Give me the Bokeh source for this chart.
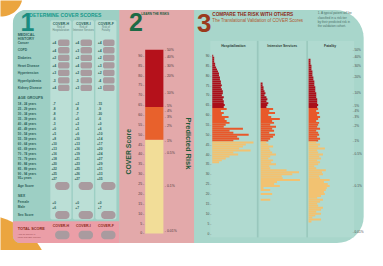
import numpy as np
from bokeh.plotting import figure
from bokeh.models import Range1d
from bokeh.core.properties import value
from bokeh.embed import file_html
from bokeh.resources import INLINE

# ---------------- data ----------------
cover_columns = ["COVER-H", "COVER-I", "COVER-F"]
cover_sub1 = ["Risk of", "Risk of", "Risk of"]
cover_sub2 = ["Hospitalization", "Intensive Services", "Fatality"]

medical_items = ["Cancer", "COPD", "Diabetes", "Heart Disease", "Hypertension",
                 "Hyperlipidemia", "Kidney Disease"]
medical_h = ["+4", "+4", "+2", "+4", "+3", "-3", "+4"]
medical_i = ["+4", "+3", "+2", "+4", "+2", "-3", "+3"]
medical_f = ["+4", "+4", "+2", "+3", "+2", "-4", "+3"]

age_groups = ["18 - 24 years", "25 - 29 years", "30 - 34 years", "35 - 39 years",
              "40 - 44 years", "45 - 49 years", "50 - 54 years", "55 - 59 years",
              "60 - 64 years", "65 - 69 years", "70 - 74 years", "75 - 79 years",
              "80 - 84 years", "85 - 89 years", "90 - 94 years", "95+ years"]
age_h = ["-7", "-8", "-8", "-6", "-3", "+0", "+5", "+8", "+10", "+13", "+16",
         "+18", "+20", "+22", "+25", "+27"]
age_i = ["+2", "-8", "-7", "+0", "+2", "+5", "+6", "+10", "+13", "+16", "+19",
         "+21", "+23", "+25", "+26", "+27"]
age_f = ["-15", "-9", "-20", "-6", "+0", "+6", "+10", "+14", "+17", "+20", "+24",
         "+27", "+29", "+31", "+33", "+35"]

sex_groups = ["Female", "Male"]
sex_h = ["+0", "+6"]
sex_i = ["+0", "+7"]
sex_f = ["+0", "+7"]
score_labels = ["Age Score", "Sex Score"]

score_ticks = list(range(0, 95, 5))
risk_labels = ["50%", "40%", "30%", "20%", "10%", "5%", "4%", "3%", "2%", "1%",
               "0.5%", "0.1%", "0.01%"]
risk_scores = [93, 89.5, 85, 79.5, 71, 64.5, 62, 59, 54.5, 47, 40.5, 24, 1]

tier_names = ["Low", "Medium", "High"]
tier_low = [0, 47.5, 64]
tier_high = [47.5, 64, 93]

hosp_scores = list(range(90, 35, -1))
hosp_counts = [1, 2, 2, 2, 3, 3, 4, 5, 6, 7, 7, 8, 8, 9, 9, 10, 9, 10, 11, 11, 10,
               12, 11, 12, 12, 13, 12,
               15, 9, 12, 10, 17, 13, 15, 18, 14, 12, 32, 18, 22, 38, 26, 28, 22,
               43, 35, 32, 28, 40, 22, 27, 18, 14, 10, 7]

icu_scores = list(range(76, 16, -1))
icu_counts = [2, 2, 3, 3, 4, 5, 4, 6, 7, 6, 8, 7, 6,
              13, 9, 15, 8, 11, 20, 12, 14, 10, 16, 12, 14, 9, 15, 13, 10, 8,
              6, 8, 13, 9, 10, 12, 16, 10, 8, 13, 11, 16, 9, 10, 27, 40, 33, 22,
              23, 41, 17, 14, 20, 3, 10, 0, 12, 0, 0, 10]

fat_scores = list(range(88, 5, -1))
fat_counts = [2, 2, 2, 3, 3, 3, 4, 4, 4, 5, 5, 6, 6, 6, 7, 7, 7, 8, 8, 8, 9, 9, 9,
              10, 9,
              10, 8, 11, 9, 12, 10, 8, 11, 10, 9, 12, 8, 10, 11, 9, 12, 10,
              8, 12, 10, 17, 9, 10, 15, 11, 13, 9, 12, 10, 6, 8, 18, 14, 15, 11,
              12, 22, 16, 20, 22, 19, 18, 16, 17, 13, 9, 15, 12, 9, 10, 15, 13,
              8, 13, 7, 4, 13, 3]

hist_titles = ["Hospitalization", "Intensive Services", "Fatality"]

# ---------------- styling ----------------
FONT = value("Liberation Sans")
TEAL_BG = "#9dcfc4"
TEAL_COL = "#bbdfd6"
PINK_BG = "#e3a9aa"
PINK_BAND = "#eb9ea7"
MINT_BG = "#a8d6cb"
MINT_COL = "#b0dad0"
ORANGE_DECO = "#eba53f"
GAUGE_COLORS = ["#f2dd98", "#e8612c", "#b5111b"]
HIST_COLORS = ["#f2c271", "#e8582a", "#aa101a"]
PILL = "#a99b9f"
DARK_TEAL = "#2c5f59"
DARK_GREEN = "#1e5a3c"
DARK_RED = "#8c2a1a"

# layout canvas: the reference's 383 x 266 picture, fitted into the 367 x 250 page
REF_W, REF_H = 383, 266
PW, PH = 367, 250
S = PW / REF_W

p = figure(width=PW, height=PH, x_range=Range1d(0, REF_W), y_range=Range1d(REF_H, 0),
           output_backend="svg", toolbar_location=None, min_border=0)
p.axis.visible = False
p.grid.visible = False
p.outline_line_color = None
p.background_fill_color = "white"
p.border_fill_color = "white"

# score scale shared by panels 2 and 3 (score 0 at y=247.8, 2.1 px per point)
Y0, K = 247.8, 2.1
p.extra_y_ranges = {"score": Range1d((Y0 - REF_H) / K, Y0 / K)}
GX0, GX1 = 151, 170
gw = GX1 - GX0
p.extra_x_ranges = {
    "gauge": Range1d(-GX0 / gw, (REF_W - GX0) / gw),
    "hosp": Range1d(-221, REF_W - 221),
    "icu": Range1d(-271.5, REF_W - 271.5),
    "fat": Range1d(-321.5, REF_W - 321.5),
}


def rrect(x0, y0, x1, y1, r):
    if not isinstance(r, (tuple, list)):
        r = (r, r, r, r)
    tl, tr, br, bl = r
    xs, ys = [], []

    def arc(cx, cy, rad, a0, a1):
        t = np.linspace(a0, a1, 10)
        xs.extend(cx + rad * np.cos(t))
        ys.extend(cy + rad * np.sin(t))

    arc(x0 + tl, y0 + tl, tl, np.pi, 1.5 * np.pi)
    arc(x1 - tr, y0 + tr, tr, 1.5 * np.pi, 2 * np.pi)
    arc(x1 - br, y1 - br, br, 0, 0.5 * np.pi)
    arc(x0 + bl, y1 - bl, bl, 0.5 * np.pi, np.pi)
    return [float(v) for v in xs], [float(v) for v in ys]


def shape(x0, y0, x1, y1, r, color, alpha=1.0):
    xs, ys = rrect(x0, y0, x1, y1, r)
    p.patch(xs, ys, fill_color=color, line_color=None, fill_alpha=alpha)


def txt(xs, ys, texts, size, color, align="left", bold=False, angle=0.0,
        baseline="middle", **kw):
    p.text(x=xs, y=ys, text=texts, text_font=FONT,
           text_font_size=f"{size * S:.2f}px",
           text_color=color, text_align=align, text_baseline=baseline,
           text_font_style="bold" if bold else "normal", angle=angle, **kw)


# ---------------- decorations / panels ----------------
circle_t = np.linspace(0, 2 * np.pi, 80)
p.patch([float(v) for v in 1 + 22 * np.cos(circle_t)],
        [float(v) for v in -5 + 22 * np.sin(circle_t)],
        fill_color=ORANGE_DECO, line_color=None)
p.patch([float(v) for v in -20 + 72 * np.cos(circle_t)],
        [float(v) for v in 300 + 72 * np.sin(circle_t)],
        fill_color=ORANGE_DECO, line_color=None)

shape(13, 10, 379, 258, (14, 30, 28, 8), MINT_BG)
shape(13, 10, 124, 258, (14, 0, 0, 8), TEAL_BG)
shape(124, 10, 202, 258, 0, PINK_BG)
shape(13, 235, 124, 258, (0, 0, 0, 8), PINK_BAND)

# ---------------- panel 1 ----------------
col_cx = [63, 86.5, 110]
val_x = [56, 80, 103.5]
for c in col_cx:
    shape(c - 11, 21, c + 11, 233, 2, TEAL_COL)

txt([21], [22.5], ["1"], 26, "#1a8c80", bold=True)
txt([30], [15], ["DETERMINE COVER SCORES"], 5.3, "#14998b", bold=True)
txt(col_cx, [25] * 3, cover_columns, 3.7, DARK_TEAL, align="center", bold=True)
txt(col_cx, [28.8] * 3, cover_sub1, 2.7, "#5f7f7a", align="center")
txt(col_cx, [31.8] * 3, cover_sub2, 2.7, "#5f7f7a", align="center")

txt([18, 18], [36.5, 40.5], ["MEDICAL", "HISTORY"], 3.9, DARK_TEAL, bold=True)
med_y = [45 + 8 * i for i in range(len(medical_items))]
txt([18] * len(med_y), med_y, medical_items, 3.4, DARK_TEAL, bold=True)
for vx, vals in zip(val_x, [medical_h, medical_i, medical_f]):
    txt([vx] * len(med_y), med_y, vals, 3.6, DARK_TEAL, align="center", bold=True)
for c in col_cx:
    for y in med_y:
        shape(c - 3, y - 3.4, c + 9, y + 3.4, 2, PILL)

txt([18], [104], ["AGE GROUPS"], 3.9, DARK_TEAL, bold=True)
age_y = [110 + 5.27 * i for i in range(len(age_groups))]
txt([18] * len(age_y), age_y, age_groups, 3.2, DARK_TEAL, bold=True)
for vx, vals in zip(val_x, [age_h, age_i, age_f]):
    txt([vx] * len(age_y), age_y, vals, 3.4, DARK_TEAL, align="center", bold=True)

sc_cx = [64.5, 89, 112.5]
txt([18], [197], [score_labels[0]], 3.4, DARK_TEAL, bold=True)
for c in sc_cx:
    shape(c - 7.5, 193, c + 7.5, 201.5, 4, PILL)

txt([18], [208], ["SEX"], 3.9, DARK_TEAL, bold=True)
sex_y = [214.5, 220]
txt([18, 18], sex_y, sex_groups, 3.4, DARK_TEAL, bold=True)
for vx, vals in zip(val_x, [sex_h, sex_i, sex_f]):
    txt([vx] * 2, sex_y, vals, 3.4, DARK_TEAL, align="center", bold=True)
txt([18], [228], [score_labels[1]], 3.4, DARK_TEAL, bold=True)
for c in sc_cx:
    shape(c - 7.5, 224, c + 7.5, 232.5, 4, PILL)

txt(col_cx, [240] * 3, cover_columns, 3.7, DARK_RED, align="center", bold=True)
txt([18], [243.5], ["TOTAL SCORE"], 4.0, DARK_RED, bold=True)
txt([18, 18], [248.5, 251.5], ["Add all scores in", "each COVER column"], 2.5, "#9a4a50")
for c in sc_cx:
    shape(c - 7.5, 245, c + 7.5, 254, 4, PILL)

# ---------------- panel 2 ----------------
txt([134], [23], ["2"], 26, "#1d6a45", bold=True)
txt([147], [13.8], ["LEARN THE RISKS"], 3.2, DARK_GREEN, bold=True)
p.quad(left=[0, 0, 0], right=[1, 1, 1], bottom=tier_low, top=tier_high,
       fill_color=GAUGE_COLORS, line_color=None,
       x_range_name="gauge", y_range_name="score")
txt([150] * len(score_ticks), score_ticks, [f"{t} -" for t in score_ticks], 3.6,
    "#4a3a3a", align="right", y_range_name="score")
txt([171.5] * len(risk_scores), risk_scores, [f"- {s}" for s in risk_labels], 3.6,
    "#4a3a3a", y_range_name="score")
txt([133.5], [161], ["COVER Score"], 7.2, DARK_GREEN, align="center", bold=True,
    angle=np.pi / 2)
txt([196.5], [152], ["Predicted Risk"], 7.8, DARK_GREEN, align="center", bold=True,
    angle=-np.pi / 2)

# ---------------- panel 3 ----------------
txt([205], [23.5], ["3"], 27, "#9b3a1c", bold=True)
txt([221], [14.5], ["COMPARE THE RISK WITH OTHERS"], 4.9, DARK_RED, bold=True)
txt([221], [21.5], ["The Translational Validation of COVER Scores"], 4.6, "#b0592f")
txt([331] * 4, [13.5, 18, 22.5, 27],
    ["1. A typical patient will be", "   classified in a risk tier",
     "   by their predicted risk in", "   the validation cohort."],
    3.2, "#4b6f68")

hist_x = [(219, 267), (270, 319), (321, 369)]
for (a, b) in hist_x:
    shape(a, 43, b, 252, 0, MINT_COL)
p.segment(x0=[268.5, 320], y0=[43, 43], x1=[268.5, 320], y1=[252, 252],
          line_color="#8fbcb1", line_width=0.8)
txt([243, 294, 344], [48, 48, 48], hist_titles, 3.6, "#2e3a38", align="center",
    bold=True)


def tier_color(s):
    return HIST_COLORS[2] if s >= 63.5 else (HIST_COLORS[1] if s >= 46.5 else HIST_COLORS[0])


for name, scores, counts in [("hosp", hosp_scores, hosp_counts),
                             ("icu", icu_scores, icu_counts),
                             ("fat", fat_scores, fat_counts)]:
    p.hbar(y=scores, left=0, right=counts, height=1.0,
           fill_color=[tier_color(s) for s in scores], line_color=None,
           x_range_name=name, y_range_name="score")

txt([220] * len(score_ticks), score_ticks, [f"{t} -" for t in score_ticks], 3.4,
    "#4a4a4a", align="right", y_range_name="score")
txt([367.5] * len(risk_scores), risk_scores, [f"- {s}" for s in risk_labels], 3.3,
    "#4a4a4a", y_range_name="score")

open("out.html", "w").write(file_html(p, INLINE))
